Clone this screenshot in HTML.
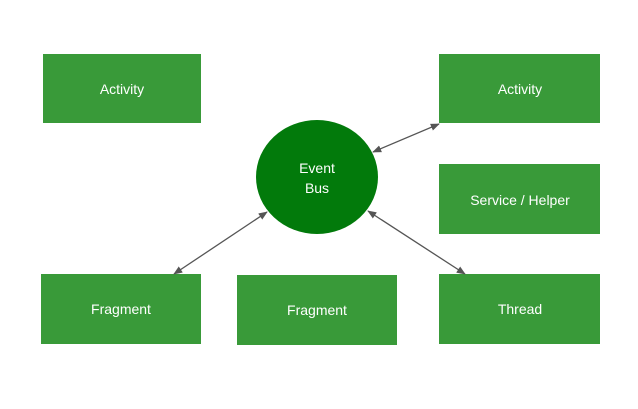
<!DOCTYPE html>
<html><head><style>
body{margin:0;width:638px;height:404px;background:#fff;overflow:hidden}
</style></head><body>
<svg width="638" height="404" xmlns="http://www.w3.org/2000/svg" font-family="Liberation Sans, sans-serif" font-size="14" fill="#fff">
<defs><marker id="a" viewBox="0 0 10 10" refX="9" refY="5" markerWidth="7" markerHeight="7" orient="auto-start-reverse"><path d="M0,1 L10,5 L0,9 z" fill="#555"/></marker></defs>
<g fill="#399a39">
<rect x="43" y="54" width="158" height="69"/>
<rect x="439" y="54" width="161" height="69"/>
<rect x="439" y="164" width="161" height="70"/>
<rect x="41" y="274" width="160" height="70"/>
<rect x="237" y="275" width="160" height="70"/>
<rect x="439" y="274" width="161" height="70"/>
</g>
<ellipse cx="317" cy="177" rx="61" ry="57" fill="#027a0b"/>
<g stroke="#555" stroke-width="1.3" marker-start="url(#a)" marker-end="url(#a)">
<line x1="373" y1="152" x2="439" y2="124"/>
<line x1="174" y1="274" x2="267" y2="212"/>
<line x1="368" y1="211" x2="465" y2="274"/>
</g>
<g text-anchor="middle">
<text x="122" y="94">Activity</text>
<text x="520" y="94">Activity</text>
<text x="520" y="205">Service / Helper</text>
<text x="121" y="314">Fragment</text>
<text x="317" y="315">Fragment</text>
<text x="520" y="314">Thread</text>
<text x="317" y="173">Event</text>
<text x="317" y="193">Bus</text>
</g>
</svg>
</body></html>
